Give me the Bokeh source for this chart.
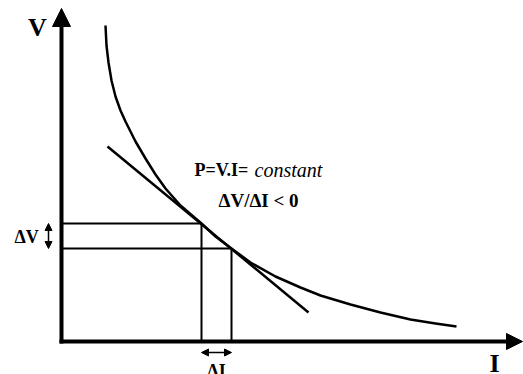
from bokeh.plotting import figure
from bokeh.models import Range1d, Arrow, NormalHead
from bokeh.core.properties import value
from bokeh.embed import file_html
from bokeh.resources import INLINE

# P = V.I = constant curve (I, V)
curve_I = [44, 45, 47, 50, 54, 59, 64, 69, 74, 84, 94, 104, 119, 140, 154, 170,
           189, 214, 239, 259, 289, 319, 349, 374, 395]
curve_V = [316, 296, 279, 261, 245, 231, 220, 210, 200, 183, 167, 153, 136, 118, 105, 93,
           79, 65, 54, 46, 37, 29, 22, 18, 15]

# two operating points
op_I = [140, 170]
op_V = [118, 93]

# secant / tangent line endpoints
sec_I = [46, 247]
sec_V = [195, 29]

# axis extents
axis_I_end = 461
axis_V_end = 333

FONT = value("Liberation Serif")

p = figure(width=523, height=374, x_range=Range1d(-61, 462), y_range=Range1d(-33, 341),
           output_backend="svg", toolbar_location=None,
           x_axis_location=None, y_axis_location=None, min_border=0)
p.grid.visible = False
p.outline_line_color = None
p.background_fill_color = "white"
p.border_fill_color = "white"

# guide lines
p.segment(x0=[0, 0], y0=op_V, x1=op_I, y1=op_V, line_color="black", line_width=2)
p.segment(x0=op_I, y0=[0, 0], x1=op_I, y1=op_V, line_color="black", line_width=2)

# secant line
p.line(sec_I, sec_V, line_color="black", line_width=2.5)

# curve
p.line(curve_I, curve_V, line_color="black", line_width=2.5, line_join="round")

# axes with arrows
p.add_layout(Arrow(end=NormalHead(size=18, fill_color="black", line_color="black", line_width=1),
                   x_start=0, y_start=-2, x_end=0, y_end=axis_V_end,
                   line_color="black", line_width=4))
p.add_layout(Arrow(end=NormalHead(size=16, fill_color="black", line_color="black", line_width=1),
                   x_start=-2, y_start=0, x_end=axis_I_end, y_end=0,
                   line_color="black", line_width=4))

# delta arrows
p.add_layout(Arrow(start=NormalHead(size=7, fill_color="black", line_color="black", line_width=1),
                   end=NormalHead(size=7, fill_color="black", line_color="black", line_width=1),
                   x_start=-13, y_start=op_V[0], x_end=-13, y_end=op_V[1],
                   line_color="black", line_width=1.5))
p.add_layout(Arrow(start=NormalHead(size=7, fill_color="black", line_color="black", line_width=1),
                   end=NormalHead(size=7, fill_color="black", line_color="black", line_width=1),
                   x_start=op_I[0], y_start=-11, x_end=op_I[1], y_end=-11,
                   line_color="black", line_width=1.5))

# texts
p.text(x=[-24], y=[314], text=["V"], text_font=FONT, text_font_style="bold",
       text_font_size="26px", text_align="center", text_baseline="alphabetic", text_color="black")
p.text(x=[433], y=[-22], text=["I"], text_font=FONT, text_font_style="bold",
       text_font_size="26px", text_align="center", text_baseline="alphabetic", text_color="black")
p.text(x=[133], y=[172], text=["P=V.I="], text_font=FONT, text_font_style="bold",
       text_font_size="18px", text_align="left", text_baseline="alphabetic", text_color="black")
p.text(x=[193], y=[172], text=["constant"], text_font=FONT, text_font_style="italic",
       text_font_size="20px", text_align="left", text_baseline="alphabetic", text_color="black")
p.text(x=[157], y=[141], text=["ΔV/ΔI < 0"], text_font=FONT, text_font_style="bold",
       text_font_size="19px", text_align="left", text_baseline="alphabetic", text_color="black")
p.text(x=[-47], y=[105], text=["ΔV"], text_font=FONT, text_font_style="bold",
       text_font_size="18px", text_align="left", text_baseline="alphabetic", text_color="black")
p.text(x=[155], y=[-19], text=["ΔI"], text_font=FONT, text_font_style="bold",
       text_font_size="18px", text_align="center", text_baseline="top", text_color="black")

open("out.html", "w").write(file_html(p, INLINE))
